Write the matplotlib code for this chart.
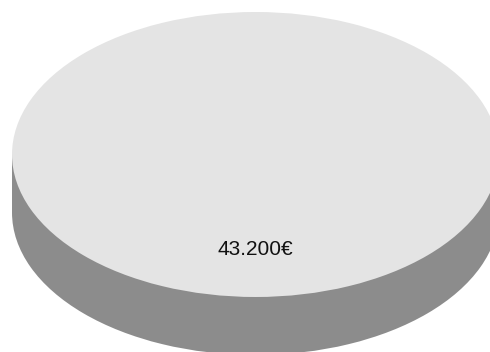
import matplotlib
matplotlib.use("Agg")
import matplotlib.pyplot as plt
from matplotlib.patches import Rectangle

categories = ["Total"]
values = [43200]
labels = ["43.200€"]

top_color = "#e4e4e4"
side_color = "#8c8c8c"
depth = 0.407

fig = plt.figure(figsize=(4.9, 3.52), dpi=100)
ax = fig.add_axes([0, 0, 1, 1])

# side (base) of the 3D pie
ax.pie(values, radius=1, center=(0, -depth), colors=[side_color], startangle=90,
       wedgeprops=dict(linewidth=0))
ax.add_patch(Rectangle((-1, -depth), 2, depth, facecolor=side_color, linewidth=0))
# top face with label
ax.pie(values, radius=1, center=(0, 0), colors=[top_color], startangle=90,
       labels=labels, labeldistance=0.67,
       textprops=dict(ha="center", va="center", fontsize=15,
                      family=["Liberation Sans", "DejaVu Sans"], color="#111111"),
       wedgeprops=dict(linewidth=0))

ax.set_aspect("auto")
ax.set_xlim(-1.0493, 0.9630)
ax.set_ylim(-1.386, 1.0842)
ax.axis("off")
fig.savefig("out.png", dpi=100)
